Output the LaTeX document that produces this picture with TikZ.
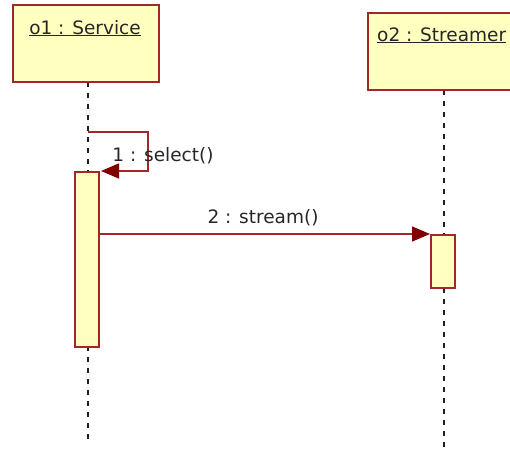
\documentclass[tikz,border=0pt]{standalone}
\usepackage{fontspec}
\setmainfont{DejaVu Sans}
\usetikzlibrary{arrows.meta}
\definecolor{umlborder}{HTML}{A02828}
\definecolor{umlfill}{HTML}{FFFFC0}
\definecolor{umlarrow}{HTML}{800000}
\definecolor{umlline}{HTML}{202020}
\begin{document}
\begin{tikzpicture}[x=1pt,y=-1pt,
  objbox/.style={draw=umlborder, fill=umlfill, line width=1.8pt},
  actbox/.style={draw=umlborder, fill=umlfill, line width=1.7pt},
  lifeline/.style={draw=umlline, line width=1.8pt, dash pattern=on 5pt off 6pt},
  msg/.style={draw=umlborder, line width=1.5pt, -{Triangle[length=18pt,width=15pt,fill=umlarrow,color=umlarrow]}},
  lbl/.style={font=\fontsize{18.5}{20}\selectfont, text=black!85, inner sep=0pt, anchor=base}
]
\useasboundingbox (0,0) rectangle (510,450);
% lifelines
\coordinate (l1top) at (88,82);
\coordinate (l1bot) at (88,443);
\coordinate (l2top) at (444,90);
\coordinate (l2bot) at (444,450);
\draw[lifeline] (l1top) -- (l1bot);
\draw[lifeline] (l2top) -- (l2bot);
% object boxes
\draw[objbox] (13,5) rectangle (159,82);
\draw[objbox] (368,13) rectangle (514,90);
\node[lbl] (o1) at (85,34) {\underline{o1 : Service}};
\node[lbl, anchor=base west] (o2) at (377,41) {\underline{o2 : Streamer}};
% activations
\node[actbox, minimum width=24pt, minimum height=175pt, inner sep=0pt, anchor=north west] (a1) at (74,171) {};
\node[actbox, minimum width=24pt, minimum height=53pt, inner sep=0pt, anchor=north west] (a2) at (430,234) {};
% self message
\coordinate (s0) at (88,132);
\coordinate (s1) at (148,132);
\coordinate (s2) at (148,171);
\coordinate (s3) at (101,171);
\draw[msg] (s0) -- (s1) -- (s2) -- (s3);
\node[lbl] (m1) at (163,161) {1 : select()};
% stream message
\draw[msg] (a1.east |- 0,234) -- (a2.north west);
\node[lbl] (m2) at (263,223) {2 : stream()};
\end{tikzpicture}
\end{document}
